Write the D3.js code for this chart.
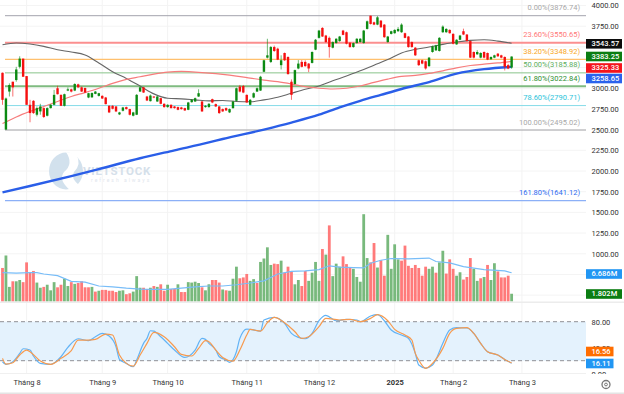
<!DOCTYPE html>
<html>
<head>
<meta charset="utf-8">
<script src="https://d3js.org/d3.v7.min.js"></script>
<style>
  html, body { margin: 0; padding: 0; background: #fff; }
  svg { display: block; }
  svg text { font-family: Roboto, sans-serif; }
</style>
</head>
<body>
<div id="chart"></div>
<script>
// daily candles
var opens = [
  3187,2501,2960,3079,3099,3259,3358,3147,2800,2848,
  2680,2720,2760,2668,2760,2800,3000,2920,2788,2972,
  2987,2972,3047,3011,3003,2888,2890,2932,2908,2908,
  2888,2788,2788,2780,2684,2728,2772,2748,2668,2680,
  2960,3011,2900,2844,2900,2840,2880,2812,2772,2800,
  2780,2772,2768,2760,2740,2832,2840,2900,2840,2772,
  2772,2868,2808,2780,2748,2760,2708,2760,2848,3020,
  3027,2920,2800,2888,2960,2972,3199,3370,3318,3498,
  3478,3279,3426,3378,3079,3051,3239,3318,3318,3298,
  3306,3466,3609,3729,3637,3609,3490,3546,3570,3697,
  3677,3550,3498,3546,3558,3546,3717,3877,3797,3769,
  3817,3769,3558,3657,3665,3689,3677,3665,3625,3558,
  3490,3338,3338,3326,3267,3438,3458,3450,3677,3677,
  3705,3657,3530,3586,3689,3649,3570,3438,3410,3370,
  3438,3426,3350,3370,3418,3398,3378,3279,3250];
var closes = [
  2860,2876,3039,3011,3227,3358,3139,2800,2700,2700,
  2760,2780,2653,2760,2800,2920,2928,2788,2928,2987,
  2960,3051,3011,2960,2948,2940,2942,2960,2940,2876,
  2808,2708,2752,2720,2708,2768,2748,2680,2708,2920,
  3011,2948,2852,2912,2888,2900,2812,2772,2800,2760,
  2760,2740,2748,2732,2828,2860,2880,2940,2720,2788,
  2812,2828,2780,2700,2720,2732,2748,2840,3000,2960,
  2948,2828,2860,2940,3000,3139,3338,3398,3498,3450,
  3346,3338,3338,3171,2920,3219,3298,3259,3267,3239,
  3438,3586,3697,3625,3558,3498,3558,3598,3625,3645,
  3538,3498,3546,3598,3598,3697,3809,3777,3769,3857,
  3737,3617,3625,3689,3705,3717,3769,3609,3498,3498,
  3398,3279,3298,3239,3370,3506,3518,3609,3745,3717,
  3665,3538,3586,3637,3649,3570,3370,3370,3438,3426,
  3370,3346,3378,3398,3386,3370,3259,3239,3383.25];
var highs = [
  3190,2888,3059,3079,3259,3386,3358,3147,2860,2856,
  2780,2812,2770,2770,2810,2980,3030,2925,2935,3010,
  2995,3060,3055,3020,3008,2945,2950,2968,2945,2915,
  2895,2795,2795,2785,2715,2775,2778,2752,2715,2930,
  3020,3016,2908,2925,2905,2908,2885,2818,2806,2805,
  2785,2778,2775,2765,2835,2870,2888,2988,2845,2795,
  2820,2875,2815,2785,2755,2768,2755,2848,3008,3040,
  3040,2925,2870,2950,3010,3150,3345,3598,3510,3515,
  3490,3398,3432,3385,3107,3225,3340,3340,3338,3305,
  3446,3595,3705,3738,3645,3625,3566,3605,3632,3705,
  3685,3556,3552,3605,3606,3705,3818,3877,3805,3872,
  3825,3775,3632,3695,3712,3740,3785,3672,3632,3565,
  3498,3345,3345,3335,3378,3515,3525,3618,3760,3725,
  3712,3665,3592,3645,3720,3655,3575,3445,3460,3435,
  3445,3432,3384,3405,3425,3405,3385,3295,3385];
var lows = [
  2800,2495,2900,2900,3079,3239,3139,2800,2589,2690,
  2660,2680,2640,2660,2755,2795,2925,2785,2780,2965,
  2950,2965,3005,2955,2945,2880,2885,2928,2900,2870,
  2805,2700,2745,2712,2676,2720,2742,2672,2660,2676,
  2956,2944,2845,2840,2880,2835,2806,2765,2765,2755,
  2754,2734,2742,2725,2735,2825,2835,2895,2715,2765,
  2765,2820,2772,2690,2715,2725,2700,2752,2840,2950,
  2940,2825,2795,2880,2955,2968,3195,3360,3305,3440,
  3340,3227,3330,3165,2860,3045,3230,3252,3260,3195,
  3300,3460,3600,3620,3550,3370,3482,3540,3562,3640,
  3530,3490,3490,3540,3552,3540,3710,3770,3762,3762,
  3730,3610,3550,3650,3660,3682,3670,3604,3490,3490,
  3390,3270,3290,3225,3260,3430,3450,3444,3670,3670,
  3660,3530,3525,3580,3642,3565,3365,3360,3405,3362,
  3362,3340,3344,3364,3380,3362,3215,3230,3235];

// volume in millions, 1 = up day, 0 = down day
var volumes = [
  7.8,10.7,3.4,4.7,4.7,5.0,4.5,9.1,6.7,7.1,
  4.4,3.2,3.4,3.9,2.6,4.5,3.3,3.9,5.3,3.6,
  4.5,4.1,4.3,4.7,3.3,3.3,3.4,2.3,2.5,2.7,
  2.7,2.5,2.5,2.2,2.5,2.6,1.7,1.9,2.3,5.9,
  3.2,3.2,2.9,3.2,3.6,3.4,4.0,2.5,3.9,2.9,
  2.9,4.0,2.2,2.2,4.5,4.4,4.6,4.3,3.3,2.6,
  4.0,5.0,5.0,4.4,2.8,2.6,2.5,5.3,8.1,5.4,
  5.6,6.4,4.8,5.2,4.3,9.2,10.0,12.6,8.5,8.8,
  8.7,9.5,6.7,8.1,7.1,4.0,5.0,3.6,7.1,4.8,
  6.7,9.2,4.8,12.2,10.9,17.7,5.9,8.8,8.1,10.5,
  8.7,8.0,7.6,5.7,4.6,20.3,10.1,9.1,13.6,7.9,
  9.6,6.0,15.5,7.6,13.3,9.8,9.5,13.0,8.3,7.8,
  8.5,7.8,6.0,8.1,7.6,8.1,6.7,9.1,11.8,6.5,
  9.8,7.6,6.0,6.8,5.1,5.7,10.1,7.6,4.8,5.4,
  5.7,8.5,5.0,8.9,7.0,5.6,5.6,6.0,1.802];
var volUp = [
  0,1,1,0,1,1,0,0,0,0, 1,1,0,1,1,1,0,0,1,1,
  0,1,0,0,0,0,1,0,1,0, 0,0,0,0,1,1,0,0,1,1,
  1,0,0,1,0,1,0,0,1,0, 0,1,0,0,1,1,1,1,0,1,
  1,0,0,0,1,0,1,1,1,0, 0,0,1,1,0,1,1,1,1,0,
  0,1,0,0,0,1,1,0,0,1, 1,1,1,0,1,0,1,1,1,0,
  0,0,1,1,1,1,1,0,0,1, 0,0,1,1,1,1,0,0,0,0,
  0,0,0,0,1,1,0,1,1,0, 0,0,1,1,0,0,0,1,1,0,
  1,0,1,1,0,0,0,0,1];

// moving averages, read at these bars
var maIdx = [0,4,8,12,16,20,24,28,32,36,40,44,48,52,56,60,64,68,72,76,80,84,88,92,96,100,104,108,112,116,120,124,128,132,136,140,144,148];
var maBlack = [3526,3546,3534,3506,3466,3438,3402,3306,3199,3119,3027,2932,2880,2872,2860,2848,2852,2840,2836,2860,2892,2940,2987,3027,3091,3147,3211,3279,3346,3426,3470,3498,3530,3558,3578,3586,3570,3543.57];
var maRed = [2573,2653,2720,2780,2840,2900,2948,3000,3059,3107,3139,3171,3195,3203,3195,3183,3167,3147,3123,3099,3079,3051,3019,3000,2991,3000,3027,3071,3111,3143,3155,3179,3211,3247,3275,3291,3306,3325.33];
var maBlueIdx = [0,8,20,28,40,50,60,64,76,84,92,98,104,110,116,124,132,140,148];
var maBlue = [1742,1819,1939,2023,2154,2250,2345,2387,2501,2585,2680,2770,2848,2920,2991,3075,3177,3231,3258.65];

var volMaIdx = [0,4,8,10,12,16,20,24,28,32,36,40,44,48,52,56,60,64,68,72,76,80,84,88,92,95,98,102,105,107,110,113,118,124,126,130,134,140,146,148];
var volMa = [6.7,6.6,6.7,6.7,6.4,6.0,4.7,4.5,3.6,3.4,3.1,2.9,2.8,2.8,3.1,3.4,3.6,3.6,3.9,4.3,4.8,6.4,7.0,7.1,7.4,8.3,8.0,7.9,7.8,8.9,9.6,10.0,9.9,10.1,9.3,9.0,8.1,7.4,7.1,6.686];

// stochastic
var kIdx = [0,1,3,5,6,8,9,11,14,17,19,22,25,27,29,31,33,34,36,38,39,41,42,43,44,46,48,50,53,56,58,59,60,
  62,63,65,66,68,69,71,72,75,76,79,82,84,86,88,90,92,94,97,100,103,104,107,109,111,113,116,118,120,121,
  123,125,126,128,130,132,135,137,139,141,144,146,148];
var kVal = [18.4,14.3,18.4,31.3,38.4,36.4,27.2,15.9,14.3,26.1,40.5,53.8,50.8,56.9,62,57.9,41.5,22,15.9,10.7,21,46.7,54.3,66.1,65.6,56.9,46.7,36.4,25.1,36.4,54.3,52.8,46.7,
  36.4,26.1,21,17.4,33.8,54.3,68.7,68.2,65.6,82.6,86.7,77.4,62,55.9,53.8,62,81.5,89.7,81.5,83.6,82.6,80,88.7,90.8,81.5,67.2,59.5,54.3,31.3,13.3,
  8.7,13.3,22,46.7,67.2,70.8,70.3,62,46.7,33.8,28.7,22,16.11];
var dIdx = [0,1,3,5,7,8,11,14,17,20,22,25,27,30,32,34,36,38,40,42,44,47,50,52,55,57,59,60,
  62,64,67,69,71,72,75,77,79,82,85,87,89,92,94,98,101,104,107,109,112,114,117,119,120,121,
  123,125,128,130,132,135,137,139,141,144,146,148];
var dVal = [23.6,14.8,16.9,28.7,36.4,33.8,19.5,14.3,23.6,35.4,51.8,51.8,52.8,61,59.5,28.7,15.9,11.8,28.7,46.7,63.6,56.9,41.5,29.7,27.2,39,50.8,49.2,
  36.4,25.1,19.5,36.4,59.5,68.2,65.6,78.5,86.7,78.5,64.6,54.3,56.9,72.3,85.1,82.6,83.6,80,85.1,90.8,81.5,68.2,59.5,51.8,31.3,21,
  8.2,15.9,39,62,69.7,70.8,62,46.7,33.8,28.7,22,16.56];

// fibonacci levels
var fibRatios = ["0.00%","23.60%","38.20%","50.00%","61.80%","78.60%","100.00%","161.80%"];
var fibPrices = [3876.74,3550.65,3348.92,3185.88,3022.84,2790.71,2495.02,1641.12];
var fibColors = ["#a3a3ad","#fb8f8f","#ffc06e","#88c48a","#7fbb80","#86dbe8","#a3a3a8","#8cb0f7"];
var fibTextColors = ["#a8a8a8","#f77","#f9a825","#5cae60","#2f8f33","#2bc4da","#a8a8a8","#2f6bf0"];
var fibWidths = [1,2,1.3,1,2,1,1,1.3];

var priceGrid = [4000,3750,3500,3250,3000,2750,2500,2250,2000,1750,1500,1250,1000,750,500];
var priceTicks = [4000,3750,3000,2750,2500,2250,2000,1750,1500,1250,1000];
var timeTicks = [7,29,48,71,92,114,131,151];
var timeLabels = ["Tháng 8","Tháng 9","Tháng 10","Tháng 11","Tháng 12","2025","Tháng 2","Tháng 3"];
var stochTicks = [80,40,0];

var width = 624, height = 394, plotRight = 586;
var up = "#0b8a12", down = "#f50f0f";
var axisFont = 7.5;

var svg = d3.select("#chart").append("svg")
    .attr("width", width)
    .attr("height", height);

var x = d3.scaleLinear().domain([0, 151]).range([2.5, 2.5 + 151 * 3.44]);
var y = d3.scaleLinear().domain([1641.12, 3876.74]).range([200.7, 15.7]);
var yVol = d3.scaleLinear().domain([0, 70]).range([301.5, 0.5]);
var yStoch = d3.scaleLinear().domain([0, 80]).range([373.7, 321.7]);

// grid
var grid = svg.append("g");
grid.selectAll(".h").data(priceGrid).enter().append("line")
    .attr("x1", 0).attr("x2", plotRight)
    .attr("y1", function (d) { return y(d); }).attr("y2", function (d) { return y(d); })
    .attr("stroke", "#f4f4f4");
grid.selectAll(".v").data(timeTicks).enter().append("line")
    .attr("x1", function (d) { return x(d); }).attr("x2", function (d) { return x(d); })
    .attr("y1", 0).attr("y2", 373.5)
    .attr("stroke", "#f3f3f3");

// watermark
var mark = svg.append("g");
mark.append("ellipse")
    .attr("cx", 66).attr("cy", 171).attr("rx", 17).attr("ry", 18.5)
    .attr("fill", "#d2e1ed");
mark.append("path")
    .attr("d", "M66 152 Q74 164 64 172 Q58 180 70 190 L80 186 Q70 178 74 172 Q82 164 76 154 Z")
    .attr("fill", "#fff");
mark.append("text")
    .attr("x", 83).attr("y", 174.5)
    .attr("font-size", 11.5).attr("font-weight", "bold").attr("letter-spacing", 0.75)
    .attr("fill", "#d5e0ea")
    .text("VIETSTOCK");
mark.append("text")
    .attr("x", 91).attr("y", 181.5)
    .attr("font-size", 5).attr("letter-spacing", 2)
    .attr("fill", "#dfe6ed")
    .text("refresh always");

// fibonacci lines and labels
fibPrices.forEach(function (p, i) {
    svg.append("line")
        .attr("x1", 5).attr("x2", plotRight)
        .attr("y1", y(p)).attr("y2", y(p))
        .attr("stroke", fibColors[i])
        .attr("stroke-width", fibWidths[i]);
    svg.append("text")
        .attr("x", 580).attr("y", y(p) - 7.5)
        .attr("text-anchor", "end")
        .attr("dominant-baseline", "middle")
        .attr("font-size", axisFont)
        .attr("fill", fibTextColors[i])
        .text(fibRatios[i] + "(" + p.toFixed(2) + ")");
});

// moving averages go under the candles
function drawLine(g, idx, vals, yScale, color, w, curve) {
    var line = d3.line()
        .x(function (d) { return x(d); })
        .y(function (d, i) { return yScale(vals[i]); })
        .curve(curve);
    g.append("path")
        .attr("d", line(idx))
        .attr("fill", "none")
        .attr("stroke", color)
        .attr("stroke-width", w);
}
drawLine(svg, maIdx, maBlack, y, "#666", 1.1, d3.curveMonotoneX);
drawLine(svg, maIdx, maRed, y, "#f77c7c", 1.2, d3.curveMonotoneX);
drawLine(svg, maBlueIdx, maBlue, y, "#2a5ee8", 2.4, d3.curveMonotoneX);

// candles
var candles = svg.append("g");
opens.forEach(function (o, i) {
    var c = closes[i];
    var color = c >= o ? up : down;
    candles.append("line")
        .attr("x1", x(i)).attr("x2", x(i))
        .attr("y1", y(highs[i])).attr("y2", y(lows[i]))
        .attr("stroke", color)
        .attr("stroke-opacity", 0.75)
        .attr("stroke-width", 0.8);
    candles.append("rect")
        .attr("x", x(i) - 1.2)
        .attr("y", y(Math.max(o, c)))
        .attr("width", 2.4)
        .attr("height", Math.max(0.8, y(Math.min(o, c)) - y(Math.max(o, c))))
        .attr("fill", color);
});

// volume
svg.append("g").selectAll("rect").data(volumes).enter().append("rect")
    .attr("x", function (d, i) { return x(i) - 1.4; })
    .attr("y", function (d) { return yVol(d); })
    .attr("width", 2.8)
    .attr("height", function (d) { return yVol(0) - yVol(d); })
    .attr("fill", function (d, i) { return volUp[i] ? "#78b97c" : "#ff7a7a"; });
drawLine(svg, volMaIdx, volMa, yVol, "#78bdf8", 1.2, d3.curveLinear);

// pane separators
svg.append("rect").attr("x", 0).attr("y", 301.5).attr("width", width).attr("height", 1.5).attr("fill", "#ececec");
svg.append("line").attr("x1", 0).attr("x2", plotRight).attr("y1", 373.5).attr("y2", 373.5).attr("stroke", "#f0f0f0");
svg.append("rect").attr("x", 0).attr("y", 392.5).attr("width", width).attr("height", 1.5).attr("fill", "#e4e4e4");

// stochastic band
svg.append("rect")
    .attr("x", 0).attr("width", plotRight)
    .attr("y", yStoch(80)).attr("height", yStoch(20) - yStoch(80))
    .attr("fill", "#e4f2fd");
[80, 20].forEach(function (v) {
    svg.append("line")
        .attr("x1", 0).attr("x2", plotRight)
        .attr("y1", yStoch(v)).attr("y2", yStoch(v))
        .attr("stroke", "#8f8f96")
        .attr("stroke-dasharray", "4 3");
});
drawLine(svg, kIdx, kVal, yStoch, "#62b3f5", 1.2, d3.curveMonotoneX);
drawLine(svg, dIdx, dVal, yStoch, "#f79a4e", 1.2, d3.curveMonotoneX);

// axes
function styleAxis(g) {
    g.select(".domain").remove();
    g.selectAll("text").attr("fill", "#333").attr("font-size", axisFont);
}
svg.append("g")
    .attr("transform", "translate(" + plotRight + ",0)")
    .call(d3.axisRight(y).tickValues(priceTicks).tickSize(0).tickPadding(5.5)
        .tickFormat(function (d) { return d.toFixed(2); }))
    .call(styleAxis);
svg.append("g")
    .attr("transform", "translate(" + plotRight + ",0)")
    .call(d3.axisRight(yStoch).tickValues(stochTicks).tickSize(0).tickPadding(5.5)
        .tickFormat(function (d) { return d.toFixed(2); }))
    .call(styleAxis);
svg.append("g")
    .attr("transform", "translate(0,380)")
    .call(d3.axisBottom(x).tickValues(timeTicks).tickSize(0).tickPadding(0)
        .tickFormat(function (d, i) { return timeLabels[i]; }))
    .call(styleAxis)
    .selectAll("text")
    .attr("font-weight", function (d, i) { return timeLabels[i] === "2025" ? "bold" : "normal"; });

// hide the part of the 0.00 label under the pane edge
svg.append("rect").attr("x", plotRight).attr("y", 374).attr("width", 38).attr("height", 18).attr("fill", "#fff");

// last value boxes
function valueBox(text, cy, fill, boxRight) {
    svg.append("rect")
        .attr("x", plotRight).attr("y", cy - 4.8)
        .attr("width", boxRight - plotRight).attr("height", 9.6)
        .attr("fill", fill);
    svg.append("text")
        .attr("x", plotRight + 5.5).attr("y", cy + 0.4)
        .attr("dominant-baseline", "middle")
        .attr("font-size", axisFont).attr("font-weight", 500)
        .attr("fill", "#fff")
        .text(text);
}
valueBox("3543.57", 43.8, "#0c0c0c", 622);
valueBox("3383.25", 56.5, "#0b7d12", 622);
valueBox("3325.33", 68, "#f4141c", 622);
valueBox("3258.65", 78.5, "#2a62ec", 622);
valueBox("6.686M", 274, "#2196f3", 622);
valueBox("1.802M", 294, "#0b7d12", 622);
valueBox("16.56", 351.5, "#ff6d00", 613.5);
valueBox("16.11", 363.5, "#2196f3", 613.5);

// settings icon
var gear = svg.append("g").attr("transform", "translate(606,384.5)");
gear.append("circle").attr("r", 4).attr("fill", "none").attr("stroke", "#777").attr("stroke-width", 1.3);
gear.append("circle").attr("r", 1.4).attr("fill", "none").attr("stroke", "#777");
</script>
</body>
</html>
